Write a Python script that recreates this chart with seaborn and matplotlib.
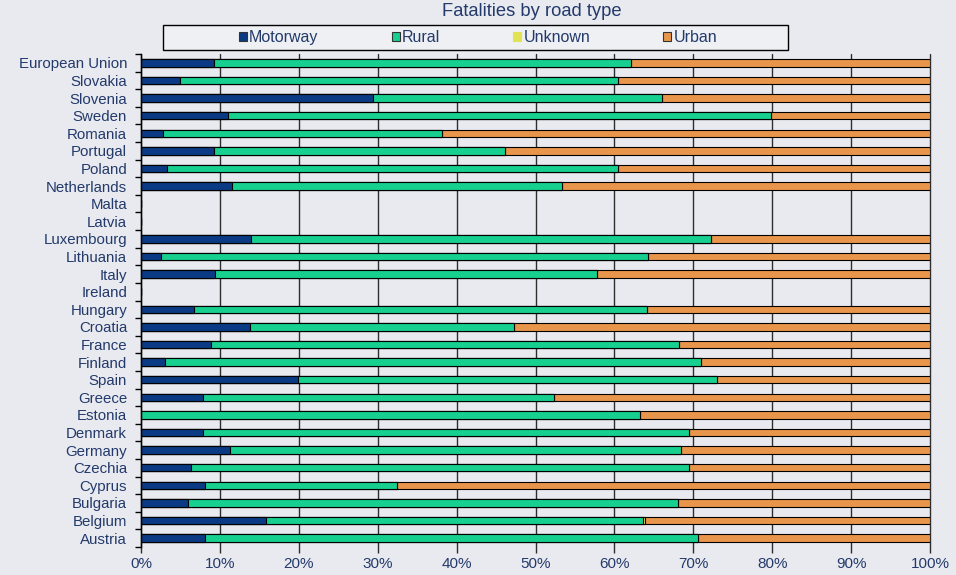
import numpy as np
import pandas as pd
import matplotlib
matplotlib.use("Agg")
import matplotlib.pyplot as plt
from matplotlib.patches import Patch, Rectangle
from matplotlib.ticker import FixedLocator, FuncFormatter
import seaborn as sns

countries = ["European Union", "Slovakia", "Slovenia", "Sweden", "Romania", "Portugal",
             "Poland", "Netherlands", "Malta", "Latvia", "Luxembourg", "Lithuania",
             "Italy", "Ireland", "Hungary", "Croatia", "France", "Finland", "Spain",
             "Greece", "Estonia", "Denmark", "Germany", "Czechia", "Cyprus",
             "Bulgaria", "Belgium", "Austria"]

motorway = [9.3, 4.9, 29.4, 11.0, 2.8, 9.2, 3.3, 11.5, 0, 0, 13.9, 2.5, 9.4, 0,
            6.7, 13.8, 8.9, 3.1, 19.9, 7.9, 0.0, 7.8, 11.3, 6.3, 8.1, 6.0, 15.9, 8.1]
rural = [52.8, 55.6, 36.6, 68.8, 35.4, 36.9, 57.1, 41.8, 0, 0, 58.4, 61.7, 48.4, 0,
         57.4, 33.5, 59.3, 67.9, 53.1, 44.4, 63.3, 61.7, 57.1, 63.2, 24.3, 62.1, 47.7, 62.5]
unknown = [0, 0, 0, 0, 0, 0, 0, 0, 0, 0, 0, 0, 0, 0,
           0, 0, 0, 0, 0, 0, 0, 0, 0, 0, 0, 0, 0.3, 0]
urban = [37.9, 39.5, 34.0, 20.2, 61.8, 53.9, 39.6, 46.7, 0, 0, 27.7, 35.8, 42.2, 0,
         35.9, 52.7, 31.8, 29.0, 27.0, 47.7, 36.7, 30.5, 31.6, 30.5, 67.6, 31.9, 36.1, 29.4]

series_names = ["Motorway", "Rural", "Unknown", "Urban"]
colors = {"Motorway": "#0b3a84", "Rural": "#17cf8f", "Unknown": "#e2e255", "Urban": "#e8964b"}
xticks = [0, 10, 20, 30, 40, 50, 60, 70, 80, 90, 100]

text_color = "#233a6b"
bg = "#e9eaef"

sns.set_theme(style="white")
plt.rcParams["font.family"] = ["Liberation Sans", "DejaVu Sans"]

df = pd.DataFrame({"country": countries, "Motorway": motorway, "Rural": rural,
                   "Unknown": unknown, "Urban": urban})
cum = df[series_names].cumsum(axis=1)

fig = plt.figure(figsize=(9.56, 5.75), dpi=100, facecolor=bg)
ax = fig.add_axes([141 / 956, 1 - 547 / 575, (930 - 141) / 956, (547 - 54) / 575])
ax.set_facecolor(bg)

for name in reversed(series_names):
    sns.barplot(x=cum[name], y=df["country"], order=countries, color=colors[name],
                edgecolor="black", linewidth=0.8, width=0.42, saturation=1,
                orient="h", ax=ax)

ax.set_xlim(0, 100)
ax.set_ylim(len(countries) - 0.5, -0.5)
ax.set_xlabel("")
ax.set_ylabel("")
ax.xaxis.set_major_locator(FixedLocator(xticks))
ax.xaxis.set_major_formatter(FuncFormatter(lambda v, p: f"{int(v)}%"))
ax.grid(axis="x", color="#2e2e2e", linewidth=1)
ax.grid(axis="y", visible=False)
ax.set_axisbelow(True)
for gl in ax.get_xgridlines():
    gl.set_clip_on(False)

for s in ["top", "right", "bottom"]:
    ax.spines[s].set_visible(False)
ax.spines["left"].set_color("black")
ax.spines["left"].set_linewidth(1)

ax.yaxis.set_minor_locator(FixedLocator(np.arange(-0.5, len(countries), 1.0)))
ax.tick_params(axis="y", which="major", length=0, pad=10, labelsize=10.8, labelcolor=text_color)
ax.tick_params(axis="y", which="minor", left=True, length=4, width=1, color="black", direction="out")
ax.tick_params(axis="x", which="major", bottom=True, length=4, width=1, color="#2e2e2e",
               pad=3, labelsize=11, labelcolor=text_color)

fig.text(532 / 956, 1 - 11 / 575, "Fatalities by road type", ha="center", va="center",
         fontsize=13.2, color=text_color)

fig.patches.append(Rectangle((163 / 956, 1 - 50 / 575), 625 / 956, 25 / 575,
                             transform=fig.transFigure, facecolor="#eef0f3",
                             edgecolor="black", linewidth=1, zorder=0))
handles = [Patch(facecolor=colors[n], edgecolor=("#333333" if n != "Unknown" else colors[n]),
                 linewidth=0.8, label=n) for n in series_names]
leg = fig.legend(handles=handles, loc="center", bbox_to_anchor=(478 / 956, 1 - 37.5 / 575),
                 ncol=4, frameon=False, fontsize=11.5, handlelength=0.5, handleheight=0.5,
                 handletextpad=0.12, columnspacing=4.6, borderpad=0)
for t in leg.get_texts():
    t.set_color(text_color)

fig.savefig("out.png", dpi=100, facecolor=bg)
